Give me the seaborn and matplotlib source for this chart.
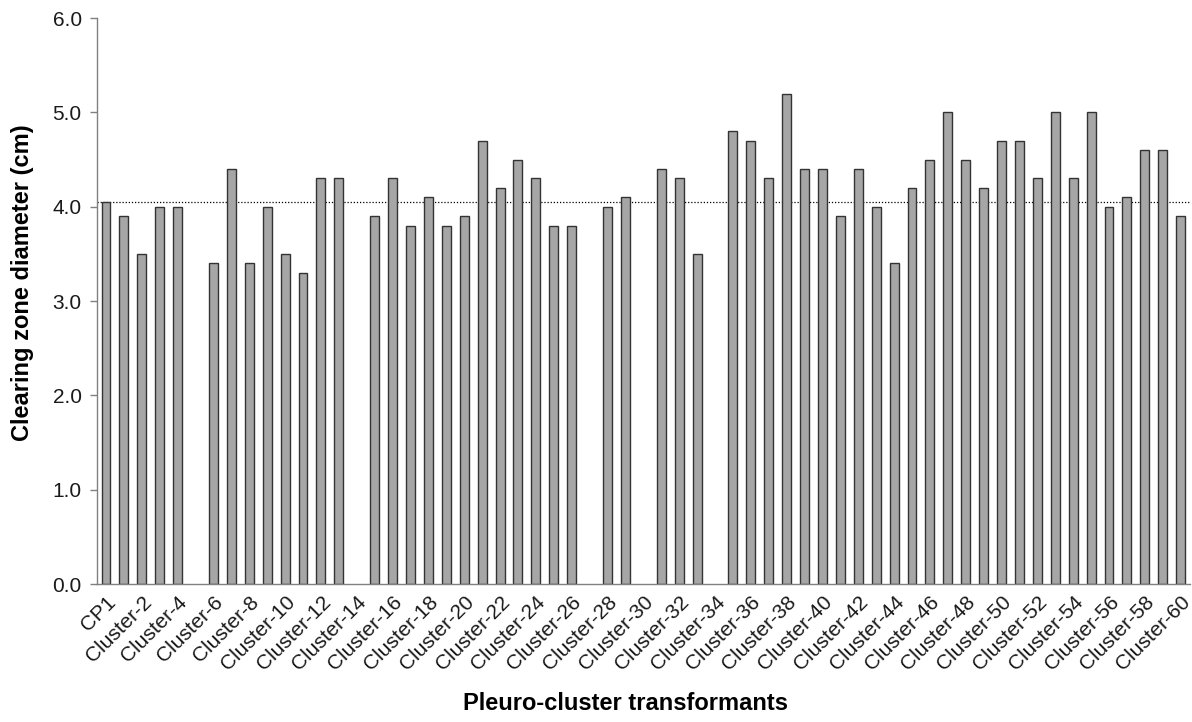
import numpy as np
import pandas as pd
import matplotlib
matplotlib.use("Agg")
import matplotlib.pyplot as plt
import seaborn as sns

# Transformant names: the CP1 control followed by Cluster-1 ... Cluster-60
strains = ["CP1"] + [f"Cluster-{i}" for i in range(1, 61)]

# Clearing zone diameters (cm); NaN where no value was recorded
diameters = [
    4.05, 3.9, 3.5, 4.0, 4.0, np.nan, 3.4, 4.4, 3.4, 4.0,
    3.5, 3.3, 4.3, 4.3, np.nan, 3.9, 4.3, 3.8, 4.1, 3.8,
    3.9, 4.7, 4.2, 4.5, 4.3, 3.8, 3.8, np.nan, 4.0, 4.1,
    np.nan, 4.4, 4.3, 3.5, np.nan, 4.8, 4.7, 4.3, 5.2, 4.4,
    4.4, 3.9, 4.4, 4.0, 3.4, 4.2, 4.5, 5.0, 4.5, 4.2,
    4.7, 4.7, 4.3, 5.0, 4.3, 5.0, 4.0, 4.1, 4.6, 4.6,
    3.9,
]

control_level = 4.05
y_ticks = [0.0, 1.0, 2.0, 3.0, 4.0, 5.0, 6.0]

df = pd.DataFrame({"strain": strains, "diameter": diameters})

sns.set_theme(style="white")
plt.rcParams["font.family"] = ["Liberation Sans", "DejaVu Sans"]

fig = plt.figure(figsize=(11.92, 7.22), dpi=100)
ax = fig.add_axes([0.0814, 0.191, 0.9166, 0.784])

sns.barplot(data=df, x="strain", y="diameter", order=strains,
            color="#a6a6a6", saturation=1, width=0.5,
            edgecolor="#333333", linewidth=1.0, errorbar=None, ax=ax)

# Reference level of the CP1 control
ax.axhline(control_level, color="black", linestyle=(0, (1, 1.5)),
           linewidth=0.9, zorder=0.5)

ax.set_xlim(-0.5, len(strains) - 0.5)
ax.set_ylim(0, 6.0)
ax.set_yticks(y_ticks)
ax.set_yticklabels([f"{v:.1f}" for v in y_ticks], fontsize=15, color="#1a1a1a")

tick_pos = list(range(0, len(strains), 2))
ax.set_xticks(tick_pos)
ax.set_xticklabels([strains[i] for i in tick_pos], rotation=45, ha="right",
                   rotation_mode="anchor", fontsize=15, color="#1a1a1a")

ax.tick_params(axis="y", which="major", direction="out", length=5, width=1,
               color="#808080", pad=6, left=True)
ax.tick_params(axis="x", length=0, pad=6)

for side in ["top", "right"]:
    ax.spines[side].set_visible(False)
for side in ["left", "bottom"]:
    ax.spines[side].set_color("#808080")
    ax.spines[side].set_linewidth(1.0)

ax.set_ylabel("Clearing zone diameter (cm)", fontsize=17, fontweight="bold",
              color="black")
ax.set_xlabel("Pleuro-cluster transformants", fontsize=17, fontweight="bold",
              color="black")
ax.yaxis.set_label_coords(-0.0575, 0.532)
ax.xaxis.set_label_coords(0.484, -0.191)

fig.savefig("out.png", dpi=100)
